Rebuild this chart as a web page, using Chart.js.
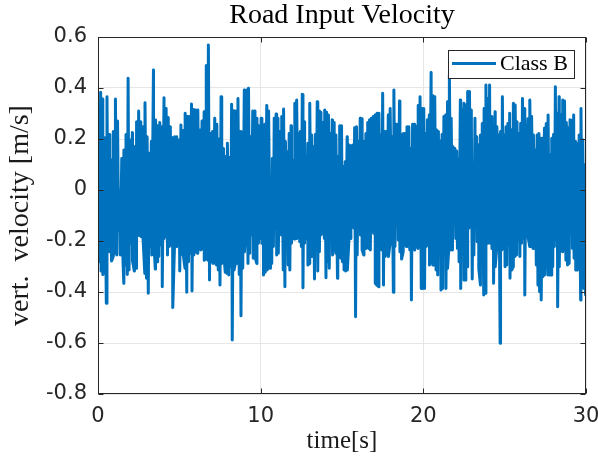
<!DOCTYPE html>
<html>
<head>
<meta charset="utf-8">
<script src="https://cdn.jsdelivr.net/npm/chart.js@4.4.1/dist/chart.umd.min.js"></script>
<style>
  html, body { margin: 0; padding: 0; background: #fff; }
  canvas { display: block; }
</style>
</head>
<body>
<canvas id="velChart" width="598" height="461"></canvas>
<script>
// road input velocity, class B profile, 0..30 s
// peaks and troughs of the signal, one array per 10 s stretch
const upperA = [0.281,0.383,0.357,0.205,0.366,0.218,0.118,0.229,0.357,0.271,-0.004,0.124,0.157,0.218,0.438,0.196,0.225,0.170,0.268,0.310,0.268,0.248,0.342,0.209,0.144,0.190,0.471,0.275,0.252,0.265,0.248,0.362,0.320,0.284,0.248,0.205,0.209,0.209,0.196,0.255,0.233,0.301,0.288,0.288,0.337,0.316,0.314,0.314,0.235,0.271,0.307,0.488,0.569,0.222,0.229,0.281,0.258,0.200,0.366,0.163,0.131,0.183,0.127,0.336,0.311,0.310,0.359,0.229,0.216,0.392,0.392,0.399,0.209,0.310,0.310,0.281,0.252];
const upperB = [0.281,0.196,0.258,0.331,0.310,0.039,0.124,0.281,0.298,0.281,0.229,0.288,0.318,0.190,0.150,0.222,0.252,0.118,0.340,0.353,0.222,0.229,0.375,0.268,0.131,0.183,0.340,0.216,0.170,0.218,0.346,0.310,0.305,0.265,0.314,0.305,0.294,0.222,0.275,0.265,0.216,0.131,0.252,0.252,0.092,0.111,0.209,0.176,0.174,0.176,0.244,0.248,0.190,0.281,0.279,0.190,0.222,0.265,0.275,0.281,0.288,0.294,0.301,0.301,0.216,0.379,0.229,0.229,0.294,0.320,0.209,0.392,0.258,0.258,0.349,0.216,0.222,0.222,0.248,0.248,0.163,0.258,0.258,0.248,0.331,0.366,0.320];
const upperC = [0.320,0.222,0.275,0.294,0.461,0.370,0.366,0.235,0.229,0.192,0.218,0.288,0.294,0.346,0.454,0.281,0.170,0.163,0.153,0.124,0.353,0.314,0.340,0.333,0.386,0.386,0.314,0.098,0.281,0.209,0.176,0.216,0.261,0.320,0.412,0.359,0.412,0.288,0.176,0.307,0.248,0.216,0.229,0.366,0.216,0.248,0.261,0.301,0.235,0.340,0.333,0.268,0.222,0.261,0.359,0.320,0.255,0.279,0.353,0.288,0.216,0.157,0.216,0.222,0.203,0.203,0.242,0.261,0.294,0.137,0.203,0.218,0.405,0.301,0.366,0.294,0.353,0.349,0.265,0.244,0.275,0.261,0.294,0.190,0.179,0.216,0.320,0.196,0.098];
const lowerA = [-0.281,-0.318,-0.331,-0.320,-0.444,-0.209,-0.242,-0.278,-0.261,-0.248,-0.255,-0.157,-0.255,-0.170,-0.366,-0.294,-0.331,-0.314,-0.209,-0.278,-0.318,-0.307,-0.176,-0.179,-0.183,-0.190,-0.327,-0.346,-0.405,-0.222,-0.255,-0.176,-0.310,-0.281,-0.261,-0.216,-0.379,-0.190,-0.163,-0.255,-0.222,-0.216,-0.461,-0.216,-0.222,-0.183,-0.318,-0.252,-0.255,-0.307,-0.401,-0.281,-0.248,-0.396,-0.255,-0.216,-0.248,-0.150,-0.235,-0.231,-0.275,-0.268,-0.275,-0.353,-0.281,-0.288,-0.281,-0.294,-0.314,-0.373,-0.288,-0.235,-0.323,-0.327,-0.333,-0.301,-0.588,-0.314,-0.281,-0.288,-0.331,-0.493,-0.307,-0.242,-0.111,-0.288,-0.248,-0.176,-0.268,-0.261,-0.288,-0.209,-0.190];
const lowerB = [-0.209,-0.333,-0.323,-0.314,-0.305,-0.307,-0.288,-0.222,-0.150,-0.255,-0.248,-0.176,-0.174,-0.314,-0.379,-0.216,-0.294,-0.314,-0.209,-0.190,-0.192,-0.190,-0.131,-0.203,-0.222,-0.383,-0.209,-0.190,-0.294,-0.288,-0.261,-0.248,-0.349,-0.203,-0.318,-0.242,-0.176,-0.157,-0.190,-0.344,-0.281,-0.307,-0.157,-0.255,-0.190,-0.248,-0.346,-0.261,-0.268,-0.281,-0.314,-0.318,-0.314,-0.192,-0.190,-0.111,-0.150,-0.497,-0.255,-0.144,-0.176,-0.235,-0.255,-0.229,-0.222,-0.229,-0.235,-0.161,-0.170,-0.366,-0.373,-0.379,-0.144,-0.235,-0.373,-0.261,-0.255,-0.261,-0.209,-0.213,-0.401,-0.222,-0.137,-0.196,-0.242,-0.271,-0.242,-0.216,-0.222,-0.209,-0.235,-0.431,-0.203,-0.235,-0.216,-0.229,-0.209,-0.386,-0.386];
const lowerC = [-0.386,-0.222,-0.216,-0.294,-0.255,-0.294,-0.294,-0.314,-0.333,-0.229,-0.392,-0.386,-0.131,-0.386,-0.307,-0.203,-0.235,-0.235,-0.111,-0.190,-0.229,-0.281,-0.386,-0.176,-0.353,-0.353,-0.301,-0.150,-0.124,-0.349,-0.255,-0.144,-0.203,-0.307,-0.373,-0.183,-0.412,-0.405,-0.209,-0.092,-0.209,-0.229,-0.366,-0.301,-0.222,-0.229,-0.601,-0.235,-0.229,-0.301,-0.294,-0.216,-0.346,-0.314,-0.301,-0.261,-0.255,-0.196,-0.261,-0.209,-0.190,-0.412,-0.183,-0.183,-0.222,-0.222,-0.229,-0.222,-0.294,-0.373,-0.399,-0.431,-0.340,-0.333,-0.118,-0.333,-0.333,-0.333,-0.301,-0.222,-0.196,-0.458,-0.301,-0.235,-0.242,-0.235,-0.275,-0.294,-0.288,-0.170,-0.229,-0.268,-0.314,-0.314,-0.222,-0.431,-0.379,-0.386,-0.412];

const xTicks = [0, 10, 20, 30];
const yTicks = [-0.8, -0.6, -0.4, -0.2, 0, 0.2, 0.4, 0.6];
const segLen = 10; // seconds per stretch

const axisColor = '#262626';
const lineBlue = '#0072bd';

// spread one stretch of values evenly over its 10 s window
function stretch(vals, t0, shift) {
  return vals.map((v, i) => ({ x: t0 + segLen * (i + shift) / vals.length, y: v }));
}

let points = [];
[[upperA, lowerA], [upperB, lowerB], [upperC, lowerC]].forEach(function (pair, k) {
  points = points.concat(stretch(pair[0], k * segLen, 0.25), stretch(pair[1], k * segLen, 0.75));
});
points.sort((a, b) => a.x - b.x);

// box around the axes, inward ticks, legend in the upper right
const axesBox = {
  id: 'axesBox',
  afterDraw(chart) {
    const { ctx, chartArea: a, scales } = chart;
    ctx.save();
    ctx.strokeStyle = axisColor;
    ctx.lineWidth = 1;
    const L = Math.round(a.left) + 0.5, R = Math.round(a.right) - 0.5;
    const T = Math.round(a.top) + 0.5, B = Math.round(a.bottom) - 0.5;
    ctx.strokeRect(L, T, R - L, B - T);
    const tl = 5;
    ctx.beginPath();
    xTicks.forEach(v => {
      const px = Math.round(scales.x.getPixelForValue(v)) + 0.5;
      ctx.moveTo(px, B); ctx.lineTo(px, B - tl);
      ctx.moveTo(px, T); ctx.lineTo(px, T + tl);
    });
    yTicks.forEach(v => {
      const py = Math.round(scales.y.getPixelForValue(v)) + 0.5;
      ctx.moveTo(L, py); ctx.lineTo(L + tl, py);
      ctx.moveTo(R, py); ctx.lineTo(R - tl, py);
    });
    ctx.stroke();

    // legend
    const lx = 448.5, ly = 50.5, lw = 126, lh = 28;
    ctx.fillStyle = '#fff';
    ctx.fillRect(lx, ly, lw, lh);
    ctx.strokeStyle = axisColor;
    ctx.strokeRect(lx, ly, lw, lh);
    ctx.strokeStyle = lineBlue;
    ctx.lineWidth = 3;
    ctx.beginPath();
    ctx.moveTo(452, 63.5); ctx.lineTo(496, 63.5);
    ctx.stroke();
    ctx.fillStyle = '#000';
    ctx.font = '22px "Liberation Serif"';
    ctx.textBaseline = 'alphabetic';
    ctx.textAlign = 'left';
    ctx.fillText(chart.data.datasets[0].label, 500, 70);
    ctx.restore();
  }
};

const tickFont = { family: 'DejaVu Sans', size: 21 };

const velChart = new Chart(document.getElementById('velChart'), {
  type: 'line',
  data: {
    datasets: [{
      label: 'Class B',
      data: points,
      borderColor: lineBlue,
      borderWidth: 3,
      borderJoinStyle: 'round',
      borderCapStyle: 'round',
      pointRadius: 0,
      tension: 0,
      fill: false
    }]
  },
  options: {
    responsive: false,
    animation: false,
    events: [],
    layout: { padding: { left: 0, right: 0, top: 0, bottom: 0 } },
    plugins: {
      legend: { display: false },
      tooltip: { enabled: false },
      title: {
        display: true,
        fullSize: false,
        text: 'Road Input Velocity',
        color: '#000',
        font: { family: 'Liberation Serif', size: 28, weight: 'normal', lineHeight: 1.0 },
        padding: { top: 1.5, bottom: 7.5 }
      }
    },
    scales: {
      x: {
        type: 'linear',
        min: 0,
        max: 30,
        afterBuildTicks: s => { s.ticks = xTicks.map(v => ({ value: v })); },
        afterFit: s => { s.height = 67; s.paddingRight = 12; s.paddingLeft = 0; },
        ticks: { color: axisColor, font: tickFont, padding: 10, maxRotation: 0 },
        grid: { color: '#e6e6e6', drawTicks: false },
        border: { display: false },
        title: {
          display: true,
          text: 'time[s]',
          color: '#1a1a1a',
          font: { family: 'Liberation Serif', size: 25 },
          padding: { top: 0, bottom: 5 }
        }
      },
      y: {
        min: -0.8,
        max: 0.6,
        afterBuildTicks: s => { s.ticks = yTicks.map(v => ({ value: v })); },
        afterFit: s => { s.width = 98; },
        ticks: {
          color: axisColor,
          font: tickFont,
          padding: 11,
          callback: v => String(Math.round(v * 10) / 10)
        },
        grid: { color: '#e6e6e6', drawTicks: false },
        border: { display: false },
        title: {
          display: true,
          text: 'vert.  velocity [m/s]',
          color: '#1a1a1a',
          font: { family: 'Liberation Serif', size: 28 },
          padding: { top: 4, bottom: 0 }
        }
      }
    }
  },
  plugins: [axesBox]
});
</script>
</body>
</html>
